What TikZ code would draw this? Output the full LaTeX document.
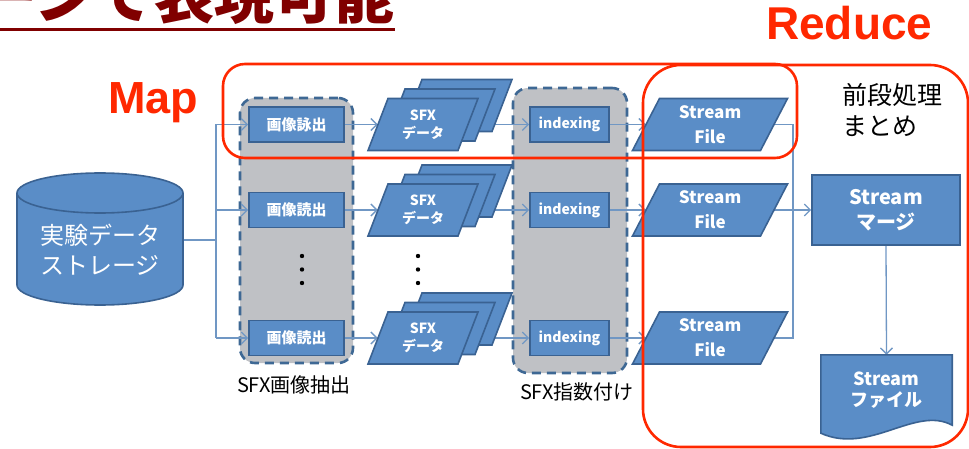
\documentclass[tikz,border=0pt]{standalone}
\usepackage{fontspec}
\setmainfont{Liberation Sans}
\newfontfamily\jp{Noto Sans CJK JP}
\usetikzlibrary{arrows.meta,calc}
\pgfdeclarelayer{grp}
\pgfdeclarelayer{lines}
\pgfsetlayers{grp,lines,main}
\definecolor{bfill}{RGB}{90,141,199}
\definecolor{bord}{RGB}{58,98,146}
\definecolor{linec}{RGB}{112,151,196}
\definecolor{grayc}{RGB}{191,193,197}
\definecolor{dashc}{RGB}{62,104,148}
\definecolor{redc}{RGB}{255,40,0}
\definecolor{titlec}{RGB}{128,0,0}
\tikzset{
  box/.style={draw=bord, line width=1.6pt, fill=bfill, text=white, font=\jp\bfseries\fontsize{15}{18}\selectfont, inner sep=0pt, align=center},
  pgshape/.style={draw=bord, line width=1.6pt, fill=bfill},
  pgtext/.style={text=white, inner sep=0pt, align=center},
  grpbox/.style={draw=dashc, fill=grayc, line width=2.6pt, dash pattern=on 9pt off 6pt, rounded corners=15pt},
  arr/.style={draw=linec, line width=1.3pt, -{Straight Barb[length=6pt,width=12pt]}},
  ln/.style={draw=linec, line width=1.3pt},
  redbox/.style={draw=redc, line width=2.6pt},
  lbl/.style={inner sep=0pt, font=\jp\fontsize{20}{24}\selectfont}
}
% parallelogram: name, cx, cy, total width, height, slant, font, text
\newcommand\pgram[8]{%
  \draw[pgshape] ({#2-#4/2},{#3+#5/2}) -- ({#2-#4/2+#6},{#3-#5/2}) -- ({#2+#4/2},{#3-#5/2}) -- ({#2+#4/2-#6},{#3+#5/2}) -- cycle;
  \node[pgtext, font=#7, minimum width={#4-#6}, minimum height=#5] (#1) at (#2,#3) {#8};%
}
\begin{document}
\begin{tikzpicture}[x=1pt,y=-1pt]
\useasboundingbox (0,0) rectangle (969,449);
% title (cut at the top-left)
\begin{scope}
\clip (0,0) rectangle (969,449);
\node[anchor=base east, inner sep=0pt, text=titlec, font=\jp\bfseries\fontsize{60}{60}\selectfont] (title) at (395,19) {ーンで表現可能};
\coordinate (ul) at (0,30);
\draw[titlec, line width=3pt] (ul) -- (ul -| title.east);
\end{scope}
% headings
\node[anchor=base west, inner sep=0pt, text=redc, font=\bfseries\fontsize{45}{45}\selectfont] (map) at (108,114) {Map};
\node[anchor=base west, inner sep=0pt, text=redc, font=\bfseries\fontsize{46}{46}\selectfont] (reduce) at (766,40) {Reduce};
% storage cylinder
\draw[draw=bord, line width=1.6pt, fill=bfill] (17,193) -- (17,285) arc(180:0:83 and 20) -- (183,193) arc(0:-180:83 and 20) -- cycle;
\draw[draw=bord, line width=1.6pt] (17,193) arc(180:0:83 and 20);
\node[minimum width=166, minimum height=132, inner sep=0pt] (db) at (100,240) {};
\node[align=center, text=white, font=\jp\fontsize{24}{30}\selectfont, inner sep=0pt] (dbt) at (100,250) {実験データ\\ストレージ};
% groups
\begin{pgfonlayer}{grp}
\node[grpbox, minimum width=113, minimum height=265] (g1) at (296.5,230.5) {};
\node[grpbox, minimum width=114, minimum height=285] (g2) at (570,230.5) {};
\end{pgfonlayer}
\node[lbl] (l1) at (294,385) {SFX画像抽出};
\node[lbl] (l2) at (577,392) {SFX指数付け};
% rows
\foreach \i/\y/\t in {1/124.5/画像詠出, 2/210/画像読出, 3/338/画像読出} {
  \node[box, minimum width=95, minimum height=35] (img\i) at (296.5,\y) {\t};
  \pgram{sfxc\i}{457}{\y-19}{110}{52}{20}{\jp}{}
  \pgram{sfxb\i}{440}{\y-9.5}{110}{52}{20}{\jp}{}
  \pgram{sfxa\i}{423}{\y}{110}{52}{20}{\jp\bfseries\fontsize{14}{18}\selectfont}{SFX\\データ}
  \node[box, minimum width=79, minimum height=35, font=\jp\bfseries\fontsize{14}{18}\selectfont] (idx\i) at (569.5,\y) {indexing};
  \pgram{sf\i}{710}{\y}{155}{52}{27}{\jp\bfseries\fontsize{17}{25}\selectfont}{Stream\\File}
}
% dots
\foreach \x in {302,418} {
  \foreach \yy in {256,269.5,283} {
    \fill (\x,\yy) circle (2.2);
  }
}
% merge and output
\node[box, minimum width=148, minimum height=70, font=\jp\bfseries\fontsize{20}{25}\selectfont] (merge) at (886,210) {Stream\\マージ};
\node[minimum width=131, minimum height=70, inner sep=0pt] (doc) at (886.5,390) {};
\draw[draw=bord, line width=1.6pt, fill=bfill] (doc.north west) -- (doc.north east) -- (doc.south east)
  .. controls ($(doc.south east)+(-37,-20)$) and ($(doc.south west)+(49,30)$) .. ($(doc.south west)+(0,8)$) -- cycle;
\node[align=center, text=white, font=\jp\bfseries\fontsize{18}{21}\selectfont, inner sep=0pt] (doct) at (886.5,390.5) {Stream\\ファイル};
\node[anchor=north west, align=left, font=\jp\fontsize{25}{31}\selectfont, inner sep=0pt] (pre) at (842,83) {前段処理\\まとめ};
% connectors
\begin{pgfonlayer}{lines}
\coordinate (t1) at (216,124.5);
\coordinate (t3) at (216,338);
\draw[ln] (t1) -- (t3);
\draw[ln] (db.east) -- (db.east -| t1);
\draw[arr] (t1) -- (img1.west);
\draw[arr] (img2.west -| t1) -- (img2.west);
\draw[arr] (t3) -- (img3.west);
\foreach \i in {1,2,3} {
  \draw[arr] (img\i.east) -- (sfxa\i.west);
  \draw[arr] (sfxa\i.center) -- (idx\i.west);
  \draw[arr] (idx\i.east) -- (sf\i.west);
}
\coordinate (c1) at (793,124.5);
\draw[ln] (sf1.east) -- (sf1.east -| c1) -- (sf3.east -| c1) -- (sf3.east);
\draw[arr] (sf2.east) -- (sf2.east -| merge.west);
\draw[arr] (merge.south) -- (doc.north);
\end{pgfonlayer}
% red frames
\node[redbox, rounded corners=22pt, minimum width=574, minimum height=94] (mapbox) at (510,111) {};
\node[redbox, rounded corners=38pt, minimum width=325, minimum height=382] (redbox) at (805.5,256) {};
\end{tikzpicture}
\end{document}
